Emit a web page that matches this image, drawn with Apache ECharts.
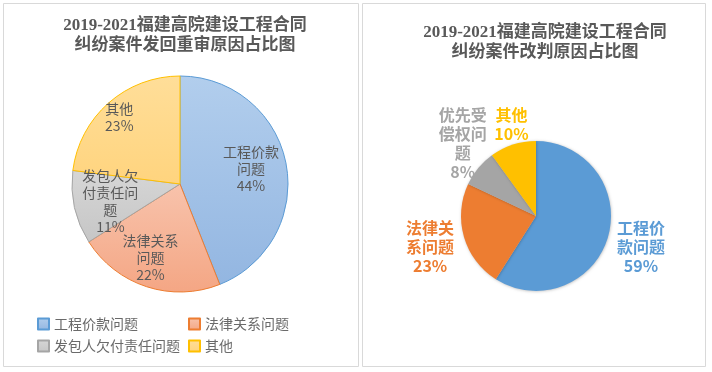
<!DOCTYPE html>
<html>
<head>
<meta charset="utf-8">
<script src="https://cdn.jsdelivr.net/npm/echarts@6/dist/echarts.min.js"></script>
<style>
html,body{margin:0;padding:0;background:#fff;}
#main{width:712px;height:372px;}
</style>
</head>
<body>
<div id="main"></div>
<script>
// ---- data ----
const leftTitle = '2019-2021福建高院建设工程合同\n纠纷案件发回重审原因占比图';
const rightTitle = '2019-2021福建高院建设工程合同\n纠纷案件改判原因占比图';
const leftCats = ['工程价款问题', '法律关系问题', '发包人欠付责任问题', '其他'];
const leftVals = [44, 22, 11, 23];
const leftLabels = ['工程价款\n问题', '法律关系\n问题', '发包人欠\n付责任问\n题', '其他'];
const rightCats = ['工程价款问题', '法律关系问题', '优先受偿权问题', '其他'];
const rightVals = [59, 23, 8, 10];
const rightLabels = ['工程价\n款问题', '法律关\n系问题', '优先受\n偿权问\n题', '其他'];

// ---- styles ----
const leftGrad = [
  ['#B2CEED', '#93B6E1', '#5B9BD5'],
  ['#F8C3AC', '#F4A684', '#ED7D31'],
  ['#D6D6D6', '#C6C6C6', '#A5A5A5'],
  ['#FFDE99', '#FFD47E', '#FFC000']
];
const leftOffsets = [[15, -5], [-12, 19], [-14, 5], [-23, -24]];
const rightColors = ['#5B9BD5', '#ED7D31', '#A5A5A5', '#FFC000'];
const rightOffsets = [[66, 20], [-67, 20], [-42, -47], [-12, -53]];

const titleFont = "'Liberation Serif','Noto Sans CJK SC',serif";
const cjk = "'Noto Sans CJK SC','Microsoft YaHei',sans-serif";

const leftData = leftCats.map((n, i) => ({
  name: n,
  value: leftVals[i],
  itemStyle: {
    color: new echarts.graphic.LinearGradient(0, 0, 0, 1, [
      {offset: 0, color: leftGrad[i][0]},
      {offset: 1, color: leftGrad[i][1]}
    ]),
    borderColor: leftGrad[i][2],
    borderWidth: 1
  },
  label: {offset: leftOffsets[i]}
}));

const rightData = rightCats.map((n, i) => ({
  name: n,
  value: rightVals[i],
  itemStyle: {color: rightColors[i], borderWidth: 0,
    shadowBlur: 3, shadowColor: 'rgba(0,0,0,0.25)', shadowOffsetX: 0.5, shadowOffsetY: 0.5},
  label: {offset: rightOffsets[i], color: rightColors[i]}
}));

const chart = echarts.init(document.getElementById('main'));
chart.setOption({
  animation: false,
  backgroundColor: '#fff',
  graphic: [
    {type: 'rect', shape: {x: 3.5, y: 3.5, width: 355, height: 363}, style: {fill: 'none', stroke: '#D9D9D9', lineWidth: 1}, silent: true},
    {type: 'rect', shape: {x: 362.5, y: 3.5, width: 343, height: 363}, style: {fill: 'none', stroke: '#D9D9D9', lineWidth: 1}, silent: true}
  ],
  title: [
    {text: leftTitle, left: 180, top: 11, textAlign: 'center',
     textStyle: {fontFamily: titleFont, fontWeight: 'bold', fontSize: 17, lineHeight: 20, color: '#595959'}},
    {text: rightTitle, left: 540, top: 18, textAlign: 'center',
     textStyle: {fontFamily: titleFont, fontWeight: 'bold', fontSize: 17, lineHeight: 20, color: '#595959'}}
  ],
  legend: {
    data: leftCats,
    left: 37, top: 314, width: 310,
    padding: 0,
    orient: 'horizontal',
    itemWidth: 11, itemHeight: 11, itemGap: 2,
    icon: 'rect',
    textStyle: {fontFamily: cjk, fontSize: 14, color: '#6A6A6A', width: 132, lineHeight: 20},
    selectedMode: false
  },
  series: [
    {
      type: 'pie',
      center: [180, 184],
      radius: 108,
      startAngle: 90,
      clockwise: true,
      avoidLabelOverlap: false,
      labelLayout: {hideOverlap: false},
      data: leftData,
      label: {
        show: true,
        position: 'inside',
        formatter: p => leftLabels[p.dataIndex] + '\n' + p.percent + '%',
        fontFamily: cjk, fontSize: 14, lineHeight: 17, color: '#595959'
      },
      labelLine: {show: false},
      emphasis: {disabled: true},
      silent: true
    },
    {
      type: 'pie',
      center: [536, 216],
      radius: 75,
      startAngle: 90,
      clockwise: true,
      avoidLabelOverlap: false,
      labelLayout: {hideOverlap: false},
      data: rightData,
      label: {
        show: true,
        position: 'inside',
        formatter: p => rightLabels[p.dataIndex] + '\n' + p.percent + '%',
        fontFamily: cjk, fontSize: 16, fontWeight: 'bold', lineHeight: 19
      },
      labelLine: {show: false},
      emphasis: {disabled: true},
      silent: true
    }
  ]
});
</script>
</body>
</html>
